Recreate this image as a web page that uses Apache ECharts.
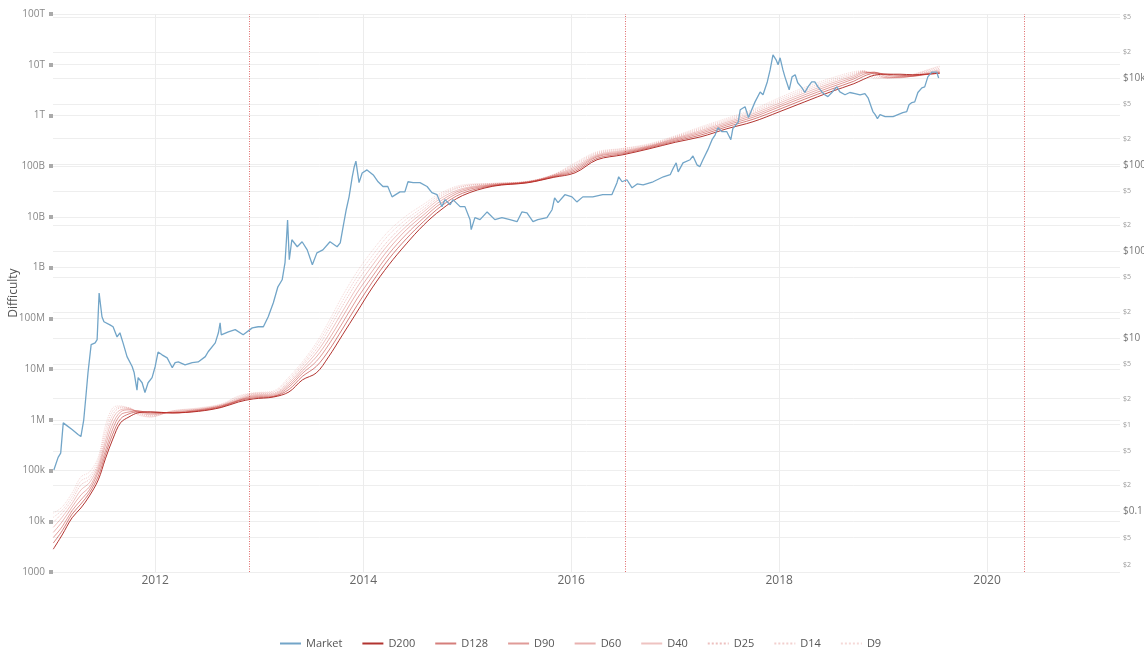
<!DOCTYPE html>
<html>
<head>
<meta charset="utf-8">
<script src="https://cdn.jsdelivr.net/npm/echarts@6/dist/echarts.min.js"></script>
<style>
  html, body { margin: 0; padding: 0; background: #fff; }
  #chart { width: 1144px; height: 650px; }
</style>
</head>
<body>
<div id="chart"></div>
<script>
const FONT = "'Open Sans', 'Noto Sans', sans-serif";

// Bitcoin market price (USD), right axis
const market = [
  ['2011-01-10',0.30],['2011-01-25',0.42],['2011-02-03',0.47],['2011-02-12',1.05],['2011-02-26',0.97],['2011-03-15',0.88],
  ['2011-04-05',0.77],['2011-04-15',0.73],['2011-04-25',1.14],['2011-05-03',2.2],['2011-05-10',4.0],['2011-05-21',8.4],
  ['2011-06-04',8.8],['2011-06-11',9.6],['2011-06-18',33],['2011-06-28',17.6],['2011-07-05',15.4],['2011-07-26',14.2],
  ['2011-08-06',13.5],['2011-08-20',10.3],['2011-08-30',11.5],['2011-09-10',8.8],['2011-09-24',6.1],['2011-10-12',4.7],
  ['2011-10-19',4.0],['2011-10-29',2.5],['2011-11-02',3.5],['2011-11-16',3.05],['2011-11-26',2.35],['2011-12-07',3.05],
  ['2011-12-21',3.5],['2012-01-01',4.7],['2012-01-11',6.9],['2012-01-25',6.4],['2012-02-12',5.9],['2012-03-01',4.55],
  ['2012-03-11',5.2],['2012-03-22',5.3],['2012-04-15',4.9],['2012-05-10',5.2],['2012-05-31',5.3],['2012-06-25',6.1],
  ['2012-07-05',6.95],['2012-07-30',8.8],['2012-08-10',11.5],['2012-08-16',15.0],['2012-08-20',10.9],['2012-09-14',11.8],
  ['2012-10-08',12.5],['2012-11-05',10.9],['2012-12-07',13.1],['2012-12-28',13.5],['2013-01-15',13.5],['2013-02-01',17.6],
  ['2013-02-19',25.5],['2013-03-07',39],['2013-03-22',47],['2013-04-01',74],['2013-04-06',136],['2013-04-10',230],
  ['2013-04-16',80],['2013-04-25',136],['2013-05-14',113],['2013-05-31',129],['2013-06-18',104],['2013-07-06',70],
  ['2013-07-22',96],['2013-08-12',104],['2013-09-06',129],['2013-10-01',113],['2013-10-12',125],['2013-10-22',192],
  ['2013-11-02',302],['2013-11-12',425],['2013-11-23',718],['2013-11-30',940],['2013-12-06',1100],['2013-12-17',620],
  ['2013-12-28',800],['2014-01-14',870],['2014-02-05',760],['2014-02-22',635],['2014-03-11',560],['2014-03-28',560],
  ['2014-04-12',425],['2014-05-10',485],['2014-05-27',485],['2014-06-07',635],['2014-06-25',620],['2014-07-19',620],
  ['2014-08-13',560],['2014-08-30',475],['2014-09-17',450],['2014-10-04',328],['2014-10-15',395],['2014-11-02',345],
  ['2014-11-12',395],['2014-12-07',328],['2014-12-24',328],['2015-01-11',232],['2015-01-15',178],['2015-01-28',245],
  ['2015-02-15',232],['2015-03-12',285],['2015-04-08',232],['2015-05-03',245],['2015-05-31',232],['2015-06-25',220],
  ['2015-07-12',285],['2015-07-30',278],['2015-08-20',220],['2015-09-06',232],['2015-10-08',245],['2015-10-26',302],
  ['2015-11-04',415],['2015-11-16',365],['2015-12-10',450],['2016-01-04',425],['2016-01-21',372],['2016-02-11',425],
  ['2016-03-17',425],['2016-04-21',450],['2016-05-23',450],['2016-06-10',620],['2016-06-16',725],['2016-06-28',635],
  ['2016-07-15',670],['2016-08-02',540],['2016-08-20',600],['2016-09-10',585],['2016-10-15',635],['2016-11-20',725],
  ['2016-12-14',765],['2016-12-25',915],['2017-01-04',1050],['2017-01-11',825],['2017-01-28',1050],['2017-02-22',1140],
  ['2017-03-04',1260],['2017-03-18',995],['2017-03-28',945],['2017-04-08',1140],['2017-04-25',1480],['2017-05-10',1940],
  ['2017-05-21',2210],['2017-05-31',2660],['2017-06-14',2400],['2017-07-01',2400],['2017-07-15',1940],['2017-07-22',2600],
  ['2017-08-10',3100],['2017-08-17',4300],['2017-09-03',4660],['2017-09-15',3500],['2017-10-08',5300],['2017-10-26',6900],
  ['2017-11-05',6400],['2017-11-20',9000],['2017-11-30',12400],['2017-12-10',18500],['2017-12-21',16200],['2017-12-28',14200],
  ['2018-01-04',17100],['2018-01-14',12400],['2018-01-21',10300],['2018-02-05',7300],['2018-02-15',10300],['2018-02-26',10900],
  ['2018-03-07',8800],['2018-03-22',7700],['2018-04-01',6800],['2018-04-12',7900],['2018-04-25',9000],['2018-05-06',9000],
  ['2018-05-17',7900],['2018-05-31',6900],['2018-06-10',6400],['2018-06-21',6100],['2018-07-05',6800],['2018-07-22',7900],
  ['2018-08-02',6900],['2018-08-20',6400],['2018-09-06',6800],['2018-09-24',6600],['2018-10-12',6400],['2018-10-29',6600],
  ['2018-11-09',5900],['2018-11-20',4660],['2018-11-26',4100],['2018-12-04',3780],['2018-12-12',3400],['2018-12-21',3780],
  ['2019-01-08',3580],['2019-01-25',3580],['2019-02-05',3580],['2019-02-22',3780],['2019-03-11',3980],['2019-03-25',4100],
  ['2019-04-02',4900],['2019-04-12',5200],['2019-04-22',5300],['2019-05-03',6800],['2019-05-17',7700],['2019-05-27',7900],
  ['2019-06-07',10300],['2019-06-21',11700],['2019-06-25',11400],['2019-07-08',11700],['2019-07-15',10000]
];

// Sample dates of the difficulty moving averages (left axis)
const ribbonDates = [
  '2011-01-08','2011-02-08','2011-03-15','2011-04-15','2011-05-15','2011-06-15','2011-07-10','2011-08-05','2011-09-01',
  '2011-10-01','2011-11-01','2011-12-15','2012-03-01','2012-06-01','2012-08-20','2012-10-20','2012-12-10','2013-02-20',
  '2013-04-15','2013-06-01','2013-07-20','2013-09-01','2013-10-20','2013-12-10','2014-02-01','2014-04-01','2014-06-01',
  '2014-08-01','2014-10-01','2014-12-15','2015-04-01','2015-08-01','2015-11-01','2016-01-15','2016-04-01','2016-07-01',
  '2016-10-01','2017-01-01','2017-04-01','2017-07-01','2017-10-01','2018-01-01','2018-04-01','2018-07-01','2018-09-20',
  '2018-10-25','2018-12-01','2019-01-15','2019-03-01','2019-04-15','2019-06-01','2019-07-19'
];

const d200 = [2.82e3,5.37e3,1.17e4,1.83e4,3.16e4,6.53e4,1.70e5,4.17e5,8.71e5,1.14e6,1.37e6,1.43e6,1.37e6,1.47e6,1.75e6,2.25e6,2.58e6,2.82e6,3.55e6,6.12e6,8.41e6,1.74e7,4.73e7,1.34e8,3.98e8,1.14e9,2.94e9,6.92e9,1.38e10,2.63e10,4.02e10,4.71e10,6.03e10,7.41e10,1.34e11,1.68e11,2.20e11,2.96e11,3.80e11,5.47e11,7.52e11,1.18e12,1.86e12,2.93e12,4.22e12,5.18e12,6.21e12,6.50e12,6.50e12,6.35e12,6.50e12,6.79e12];
const d128 = [3.72e3,6.46e3,1.38e4,2.19e4,3.63e4,7.76e4,2.04e5,5.25e5,1.04e6,1.31e6,1.43e6,1.43e6,1.37e6,1.50e6,1.79e6,2.36e6,2.70e6,2.88e6,3.98e6,7.18e6,1.13e7,2.29e7,6.21e7,1.80e8,5.13e8,1.49e9,3.70e9,8.13e9,1.62e10,2.92e10,4.11e10,4.76e10,6.17e10,7.93e10,1.43e11,1.76e11,2.29e11,3.11e11,4.12e11,5.98e11,8.41e11,1.32e12,2.10e12,3.27e12,4.73e12,5.93e12,6.79e12,6.50e12,6.21e12,6.07e12,6.41e12,6.85e12];
const d90  = [4.79e3,7.76e3,1.62e4,2.63e4,4.17e4,9.33e4,2.45e5,6.61e5,1.25e6,1.43e6,1.50e6,1.37e6,1.37e6,1.53e6,1.84e6,2.42e6,2.83e6,2.95e6,4.46e6,8.22e6,1.42e7,3.00e7,8.15e7,2.43e8,6.59e8,1.87e9,4.54e9,9.55e9,1.86e10,3.20e10,4.20e10,4.82e10,6.31e10,8.49e10,1.53e11,1.84e11,2.37e11,3.27e11,4.44e11,6.47e11,9.23e11,1.47e12,2.33e12,3.61e12,5.25e12,6.50e12,7.11e12,6.21e12,5.93e12,5.93e12,6.50e12,7.11e12];
const d60  = [6.03e3,9.77e3,1.91e4,3.30e4,4.79e4,1.07e5,3.09e5,8.32e5,1.43e6,1.57e6,1.50e6,1.31e6,1.40e6,1.57e6,1.88e6,2.47e6,2.96e6,3.09e6,4.88e6,9.20e6,1.74e7,3.77e7,1.07e8,3.18e8,8.45e8,2.35e9,5.56e9,1.10e10,2.09e10,3.43e10,4.30e10,4.88e10,6.46e10,9.08e10,1.60e11,1.92e11,2.45e11,3.43e11,4.73e11,6.92e11,1.00e12,1.60e12,2.56e12,3.96e12,5.66e12,6.95e12,7.11e12,5.79e12,5.66e12,5.93e12,6.64e12,7.45e12];
const d40  = [7.59e3,1.20e4,2.24e4,4.14e4,5.75e4,1.23e5,3.80e5,1.05e6,1.57e6,1.64e6,1.43e6,1.25e6,1.43e6,1.60e6,1.92e6,2.58e6,3.10e6,3.24e6,5.35e6,1.03e7,2.09e7,4.73e7,1.37e8,4.08e8,1.09e9,2.94e9,6.53e9,1.26e10,2.34e10,3.63e10,4.40e10,4.92e10,6.61e10,9.72e10,1.68e11,2.01e11,2.52e11,3.56e11,5.04e11,7.38e11,1.08e12,1.75e12,2.80e12,4.30e12,6.07e12,7.21e12,6.79e12,5.53e12,5.53e12,6.07e12,6.95e12,7.96e12];
const d25  = [9.55e3,1.45e4,2.63e4,5.20e4,6.76e4,1.41e5,4.79e5,1.26e6,1.72e6,1.72e6,1.37e6,1.19e6,1.47e6,1.64e6,1.97e6,2.70e6,3.24e6,3.39e6,5.85e6,1.16e7,2.45e7,5.93e7,1.77e8,5.25e8,1.36e9,3.53e9,7.66e9,1.41e10,2.57e10,3.93e10,4.50e10,4.98e10,6.76e10,1.04e11,1.76e11,2.10e11,2.59e11,3.70e11,5.35e11,7.83e11,1.16e12,1.90e12,3.05e12,4.65e12,6.46e12,7.41e12,6.35e12,5.42e12,5.66e12,6.21e12,7.28e12,8.53e12];
const d14  = [1.20e4,1.66e4,3.09e4,6.24e4,7.76e4,1.62e5,6.03e5,1.50e6,1.80e6,1.72e6,1.31e6,1.14e6,1.50e6,1.68e6,2.01e6,2.83e6,3.32e6,3.55e6,6.40e6,1.26e7,2.87e7,7.11e7,2.21e8,6.59e8,1.71e9,4.44e9,8.97e9,1.58e10,2.79e10,4.07e10,4.56e10,5.01e10,6.84e10,1.11e11,1.84e11,2.20e11,2.68e11,3.84e11,5.66e11,8.30e11,1.24e12,2.06e12,3.31e12,5.01e12,6.85e12,7.55e12,5.66e12,5.53e12,5.79e12,6.35e12,7.62e12,9.14e12];
const d9   = [1.45e4,1.91e4,3.63e4,7.48e4,9.33e4,1.85e5,7.59e5,1.72e6,1.88e6,1.64e6,1.25e6,1.14e6,1.50e6,1.72e6,2.06e6,2.96e6,3.40e6,3.72e6,7.01e6,1.39e7,3.29e7,8.53e7,2.78e8,8.26e8,2.14e9,5.32e9,1.05e10,1.78e10,2.99e10,4.27e10,4.60e10,5.04e10,6.92e10,1.17e11,1.92e11,2.25e11,2.77e11,3.98e11,5.98e11,8.81e11,1.32e12,2.23e12,3.60e12,5.42e12,7.28e12,7.62e12,5.30e12,5.53e12,5.93e12,6.50e12,7.80e12,9.55e12];

const ribbonNames  = ['D200', 'D128', 'D90', 'D60', 'D40', 'D25', 'D14', 'D9'];
const ribbonValues = [d200, d128, d90, d60, d40, d25, d14, d9];

// Axis ticks and labels
const difficultyTicks  = [1e3, 1e4, 1e5, 1e6, 1e7, 1e8, 1e9, 1e10, 1e11, 1e12, 1e13, 1e14];
const difficultyLabels = ['1000', '10k', '100k', '1M', '10M', '100M', '1B', '10B', '100B', '1T', '10T', '100T'];
const priceTicks  = [0.02, 0.05, 0.1, 0.2, 0.5, 1, 2, 5, 10, 20, 50, 100, 200, 500, 1000, 2000, 5000, 10000, 20000, 50000];
const priceLabels = ['$2', '$5', '$0.1', '$2', '$5', '$1', '$2', '$5', '$10', '$2', '$5', '$100', '$2', '$5', '$1000', '$2', '$5', '$10k', '$2', '$5'];
const yearTicks    = ['2012-01-01', '2014-01-01', '2016-01-01', '2018-01-01', '2020-01-01'];
const halvingDates = ['2012-11-28', '2016-07-09', '2020-05-11'];

function toTime(s) { return new Date(s + 'T00:00:00').getTime(); }
function matchTick(ticks, v) {
  const lv = Math.log10(v);
  return ticks.findIndex(t => Math.abs(Math.log10(t) - lv) < 1e-6);
}

// Line styles of the ribbon, from the slowest average to the fastest
const ribbonStyles = [
  { color: 'rgba(170, 30, 25, 0.90)', type: 'solid' },
  { color: 'rgba(185, 40, 35, 0.60)', type: 'solid' },
  { color: 'rgba(190, 45, 40, 0.48)', type: 'solid' },
  { color: 'rgba(195, 50, 45, 0.38)', type: 'solid' },
  { color: 'rgba(200, 55, 50, 0.30)', type: 'solid' },
  { color: 'rgba(200, 60, 55, 0.32)', type: 'dotted' },
  { color: 'rgba(205, 70, 65, 0.26)', type: 'dotted' },
  { color: 'rgba(210, 80, 75, 0.22)', type: 'dotted' }
];

const ribbonSeries = ribbonNames.map((name, k) => ({
  name,
  type: 'line',
  yAxisIndex: 0,
  symbol: 'none',
  smooth: 0.35,
  z: 2,
  itemStyle: { color: ribbonStyles[k].color },
  lineStyle: { width: 1, color: ribbonStyles[k].color, type: ribbonStyles[k].type },
  data: ribbonDates.map((d, i) => [toTime(d), ribbonValues[k][i]])
}));

// Year grid lines (with their labels under the plot) and the halving dates
const guideLines = [
  ...yearTicks.map(d => ({
    xAxis: toTime(d),
    lineStyle: { color: '#ececec', width: 1, type: 'solid' },
    label: {
      show: true,
      position: 'start',
      distance: 3,
      color: '#666',
      fontSize: 12,
      fontFamily: FONT,
      formatter: d.slice(0, 4)
    }
  })),
  ...halvingDates.map(d => ({
    xAxis: toTime(d),
    lineStyle: { color: '#e06c6c', width: 1, type: [1, 1.5] },
    label: { show: false }
  }))
];

const marketSeries = {
  name: 'Market',
  type: 'line',
  yAxisIndex: 1,
  symbol: 'none',
  z: 3,
  itemStyle: { color: '#72a5c8' },
  lineStyle: { width: 1.3, color: '#72a5c8' },
  data: market.map(p => [toTime(p[0]), p[1]]),
  markLine: {
    silent: true,
    symbol: 'none',
    z: 1,
    animation: false,
    data: guideLines
  }
};

const chart = echarts.init(document.getElementById('chart'), null, { renderer: 'canvas' });
chart.setOption({
  animation: false,
  backgroundColor: '#fff',
  textStyle: { fontFamily: FONT },
  grid: { left: 53, right: 24, top: 14, bottom: 78, containLabel: false, outerBoundsMode: 'none' },
  legend: {
    bottom: -4,
    left: 274,
    itemWidth: 21,
    itemHeight: 10,
    itemGap: 19,
    itemStyle: { opacity: 0 },
    textStyle: { color: '#555', fontSize: 11, fontFamily: FONT },
    data: ['Market', ...ribbonNames]
  },
  xAxis: {
    type: 'time',
    min: toTime('2011-01-07'),
    max: toTime('2021-04-12'),
    axisLine: { show: false },
    axisTick: { show: false },
    splitLine: { show: false },
    axisLabel: { show: false }
  },
  yAxis: [
    {
      type: 'log',
      logBase: 10,
      min: 1e3,
      max: 1e14,
      name: 'Difficulty',
      nameLocation: 'middle',
      nameGap: 33,
      nameMoveOverlap: false,
      nameTextStyle: { color: '#555', fontSize: 12, fontFamily: FONT },
      axisLine: { show: false },
      axisTick: { show: true, customValues: difficultyTicks, length: 4, lineStyle: { color: '#aaa', width: 4 } },
      splitLine: { show: true, lineStyle: { color: '#eeeeee', width: 1 } },
      axisLabel: {
        customValues: difficultyTicks,
        color: '#888',
        fontSize: 10,
        margin: 8,
        fontFamily: FONT,
        formatter: v => { const i = matchTick(difficultyTicks, v); return i >= 0 ? difficultyLabels[i] : ''; }
      }
    },
    {
      type: 'log',
      logBase: 10,
      min: 0.02,
      max: 54700,
      position: 'right',
      axisLine: { show: false },
      axisTick: { show: false, customValues: priceTicks },
      splitLine: { show: true, lineStyle: { color: '#eeeeee', width: 1 } },
      axisLabel: {
        customValues: priceTicks,
        margin: 3,
        fontFamily: FONT,
        formatter: v => {
          const i = matchTick(priceTicks, v);
          if (i < 0) return '';
          if (i === 0) return '{low|' + priceLabels[i] + '}';
          const major = priceLabels[i].length > 2;
          return major ? '{big|' + priceLabels[i] + '}' : '{small|' + priceLabels[i] + '}';
        },
        rich: {
          big: { fontSize: 10, color: '#777', fontFamily: FONT },
          small: { fontSize: 7, color: '#999', fontFamily: FONT },
          low: { fontSize: 7, color: '#999', fontFamily: FONT, padding: [0, 0, 14, 0] }
        }
      }
    }
  ],
  series: [marketSeries, ...ribbonSeries]
});
</script>
</body>
</html>
